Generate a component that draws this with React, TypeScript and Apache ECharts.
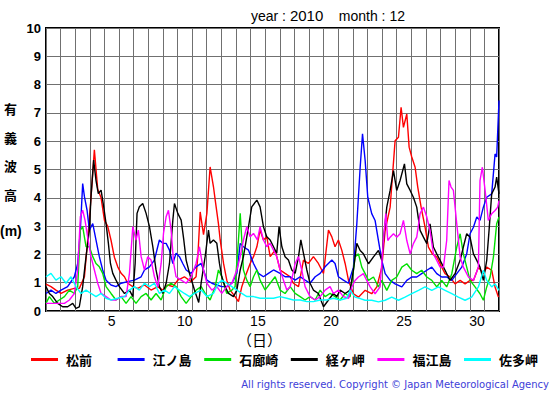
import React, { useEffect, useRef } from "react";
import * as echarts from "echarts";

// ---- data (day offset from Dec 1 00:00, wave height m) ----
const dayLabels = Array.from({ length: 31 }, (_, i) => String(i + 1));
const yTicks = [0, 10, 1];

const stationNames = ["松前", "江ノ島", "石廊崎", "経ヶ岬", "福江島", "佐多岬"];
const stationColors = ["#ff0000", "#0000ff", "#00e000", "#000000", "#ff00ff", "#00ffff"];

const matsumae = [
  [0, 0.95], [0.34, 0.86], [0.68, 0.74], [1.03, 0.62], [1.48, 0.74], [1.94, 0.8], [2.28, 0.8], [2.63, 1.21], [2.85, 2.5], [3.08, 4.0],
  [3.31, 5.7], [3.54, 4.3], [3.77, 4.0], [4.0, 3.2], [4.22, 3.0], [4.45, 2.5], [4.68, 1.9], [4.91, 1.56], [5.14, 1.33], [5.37, 1.21],
  [5.59, 0.98], [5.94, 0.86], [6.28, 0.8], [6.74, 0.92], [7.19, 0.74], [7.65, 0.86], [7.99, 0.74], [8.33, 0.92], [8.68, 0.86], [9.02, 1.09],
  [9.47, 1.21], [9.93, 1.04], [10.27, 1.21], [10.4, 2.0], [10.55, 3.5], [10.78, 2.7], [11.01, 3.45], [11.23, 5.09], [11.46, 4.39], [11.58, 3.92],
  [11.8, 3.09], [11.92, 2.51], [12.15, 1.68], [12.37, 1.09], [12.6, 0.74], [12.94, 0.51], [13.17, 0.33], [13.4, 0.86], [13.63, 1.21], [13.97, 1.68],
  [14.2, 1.92], [14.43, 2.27], [14.65, 2.86], [14.88, 2.51], [15.11, 2.62], [15.34, 1.92], [15.68, 2.15], [16.02, 1.45], [16.36, 1.33], [16.71, 1.21],
  [16.93, 0.98], [17.28, 0.86], [17.62, 1.8], [17.96, 1.68], [18.3, 1.92], [18.64, 1.68], [18.99, 1.33], [19.33, 2.86], [19.56, 2.62], [19.78, 2.27],
  [20.01, 2.51], [20.24, 2.15], [20.47, 1.68], [20.7, 1.08], [21.04, 0.61], [21.38, 0.49], [21.84, 0.73], [22.29, 0.61], [22.64, 0.85], [22.98, 1.55],
  [23.21, 2.85], [23.55, 3.67], [23.89, 6.02], [24.12, 6.14], [24.3, 7.2], [24.46, 6.49], [24.69, 6.96], [24.85, 5.79], [25.03, 5.44], [25.26, 5.08],
  [25.44, 4.38], [25.67, 3.67], [25.94, 2.96], [26.17, 2.26], [26.44, 2.02], [26.74, 1.91], [27.08, 1.55], [27.31, 1.32], [27.65, 1.2], [27.99, 0.96],
  [28.34, 1.08], [28.68, 0.96], [29.02, 1.08], [29.25, 1.08], [29.59, 1.55], [29.93, 1.32], [30.16, 1.55], [30.5, 1.44], [30.73, 0.85], [30.96, 0.49],
];

const enoshima = [
  [0, 0.62], [0.34, 0.74], [0.68, 0.62], [1.03, 0.74], [1.48, 0.86], [1.94, 1.21], [2.17, 1.68], [2.35, 2.86], [2.51, 4.5], [2.63, 4.04],
  [2.81, 3.56], [2.97, 2.86], [3.2, 3.09], [3.42, 2.51], [3.65, 1.92], [3.88, 1.45], [4.11, 1.09], [4.45, 0.92], [4.79, 0.86], [5.14, 0.98],
  [5.59, 1.04], [6.05, 1.09], [6.51, 1.21], [6.74, 1.45], [7.08, 1.56], [7.42, 1.8], [7.76, 2.51], [7.99, 2.39], [8.22, 2.39], [8.45, 2.15],
  [8.68, 1.68], [8.9, 2.04], [9.13, 1.92], [9.36, 1.68], [9.59, 1.45], [9.93, 1.33], [10.27, 1.56], [10.62, 1.68], [10.78, 1.45], [11.01, 1.09],
  [11.35, 0.98], [11.69, 0.92], [12.03, 0.86], [12.37, 0.86], [12.72, 0.98], [13.06, 1.33], [13.29, 2.39], [13.51, 2.27], [13.86, 2.15], [14.2, 1.68],
  [14.54, 1.33], [14.88, 1.21], [15.22, 1.33], [15.57, 1.45], [16.02, 1.33], [16.36, 1.21], [16.71, 1.21], [17.05, 1.09], [17.39, 1.21], [17.73, 1.09],
  [18.07, 0.98], [18.42, 1.21], [18.76, 1.33], [19.1, 1.56], [19.56, 1.8], [19.78, 1.68], [20.01, 1.21], [20.35, 1.09], [20.7, 0.98], [21.04, 1.55],
  [21.27, 3.08], [21.5, 5.08], [21.66, 6.26], [21.84, 5.32], [22.02, 4.02], [22.29, 3.44], [22.52, 3.2], [22.75, 2.49], [22.98, 1.79], [23.21, 1.32],
  [23.55, 1.08], [23.89, 0.96], [24.35, 0.85], [24.69, 1.08], [25.03, 1.2], [25.37, 1.2], [25.71, 1.32], [26.06, 1.44], [26.4, 1.55], [26.74, 1.32],
  [27.08, 1.2], [27.42, 1.2], [27.77, 1.08], [28.11, 1.32], [28.45, 1.55], [28.79, 2.02], [29.02, 2.73], [29.25, 2.96], [29.48, 3.32], [29.7, 3.2],
  [29.93, 3.67], [30.16, 4.02], [30.5, 4.14], [30.73, 5.55], [30.84, 5.44], [31.0, 7.44],
];

const irozaki = [
  [0, 0.27], [0.23, 0.51], [0.57, 0.27], [0.91, 0.39], [1.26, 0.51], [1.6, 0.74], [1.94, 0.62], [2.17, 0.86], [2.35, 2.86], [2.51, 2.98],
  [2.74, 2.27], [2.97, 2.27], [3.2, 1.92], [3.42, 1.68], [3.65, 1.56], [3.88, 1.33], [4.11, 0.86], [4.45, 0.62], [4.79, 0.39], [5.14, 0.51],
  [5.48, 0.27], [5.82, 0.51], [6.16, 0.27], [6.51, 0.51], [6.85, 0.62], [7.19, 0.39], [7.53, 0.62], [7.88, 0.39], [8.22, 0.86], [8.56, 0.98],
  [8.9, 0.86], [9.25, 0.51], [9.59, 0.27], [9.93, 0.51], [10.27, 0.74], [10.62, 0.86], [10.89, 0.62], [11.23, 0.39], [11.58, 0.86], [11.8, 1.45],
  [12.03, 1.21], [12.37, 0.62], [12.72, 0.74], [12.94, 0.86], [13.17, 2.51], [13.29, 3.45], [13.4, 2.51], [13.51, 1.45], [13.74, 1.09], [13.97, 0.86],
  [14.2, 1.21], [14.43, 1.45], [14.65, 1.09], [14.99, 0.74], [15.34, 0.98], [15.68, 1.21], [16.02, 0.74], [16.36, 0.62], [16.71, 0.86], [17.05, 0.62],
  [17.39, 0.51], [17.73, 0.39], [18.07, 0.51], [18.42, 0.39], [18.76, 0.74], [19.1, 0.51], [19.44, 0.62], [19.78, 0.51], [20.13, 0.39], [20.47, 0.62],
  [20.81, 0.5], [21.15, 1.91], [21.38, 2.02], [21.61, 1.55], [21.84, 1.32], [22.07, 1.08], [22.41, 1.2], [22.75, 0.85], [22.98, 1.08], [23.32, 0.73],
  [23.66, 1.08], [24.0, 1.2], [24.35, 1.55], [24.69, 1.67], [25.03, 1.44], [25.37, 1.32], [25.71, 1.44], [26.06, 1.2], [26.4, 1.08], [26.74, 0.85],
  [27.08, 1.08], [27.42, 0.85], [27.77, 1.32], [28.11, 2.26], [28.34, 2.73], [28.56, 2.02], [28.79, 1.55], [29.02, 1.08], [29.36, 0.85], [29.7, 0.61],
  [29.93, 0.38], [30.16, 0.85], [30.39, 1.2], [30.62, 1.91], [30.84, 3.08], [31.0, 3.32],
];

const kyogamisaki = [
  [0, 0.86], [0.23, 0.62], [0.46, 0.51], [0.8, 0.27], [1.14, 0.15], [1.48, 0.15], [1.83, 0.27], [2.05, 0.09], [2.28, 0.15], [2.51, 0.86],
  [2.74, 1.92], [2.97, 2.86], [3.08, 4.04], [3.26, 5.33], [3.42, 4.62], [3.58, 4.15], [3.77, 4.27], [3.95, 3.68], [4.11, 3.09], [4.27, 2.39],
  [4.41, 1.68], [4.57, 1.33], [4.79, 1.09], [5.02, 0.86], [5.37, 0.62], [5.71, 0.74], [5.94, 0.51], [6.1, 1.68], [6.23, 3.45], [6.39, 3.68],
  [6.62, 3.8], [6.85, 3.45], [7.08, 2.98], [7.31, 2.27], [7.53, 1.45], [7.76, 0.86], [7.99, 0.62], [8.22, 0.98], [8.45, 1.68], [8.68, 3.21],
  [8.79, 3.8], [9.02, 3.45], [9.25, 3.21], [9.43, 2.51], [9.59, 1.8], [9.82, 1.33], [10.16, 0.74], [10.45, 0.3], [10.62, 1.0], [10.89, 1.92],
  [11.12, 2.86], [11.23, 2.39], [11.46, 2.51], [11.69, 2.39], [11.87, 1.68], [12.03, 1.21], [12.26, 0.86], [12.49, 0.62], [12.83, 0.51], [13.06, 0.74],
  [13.29, 1.45], [13.51, 1.92], [13.74, 2.62], [14.08, 3.68], [14.43, 3.92], [14.65, 3.68], [14.88, 2.98], [15.11, 2.62], [15.34, 2.51], [15.57, 2.27],
  [15.79, 2.04], [15.95, 2.98], [16.14, 2.27], [16.36, 1.92], [16.59, 1.8], [16.82, 1.45], [17.05, 1.33], [17.28, 1.92], [17.44, 2.51], [17.62, 2.04],
  [17.85, 1.45], [18.07, 0.98], [18.3, 0.74], [18.64, 0.62], [18.99, 0.15], [19.33, 0.39], [19.67, 0.62], [19.9, 0.51], [20.13, 0.74], [20.47, 0.62],
  [20.81, 0.74], [21.04, 1.45], [21.27, 2.39], [21.5, 2.14], [21.72, 2.02], [22.07, 1.67], [22.41, 1.91], [22.75, 2.14], [22.98, 1.79], [23.16, 2.85],
  [23.32, 3.67], [23.55, 4.26], [23.78, 4.96], [24.0, 4.26], [24.23, 4.61], [24.53, 5.2], [24.69, 4.49], [24.92, 4.26], [25.14, 4.02], [25.37, 3.67],
  [25.6, 2.85], [25.83, 2.61], [26.06, 2.38], [26.28, 3.08], [26.51, 2.26], [26.74, 2.02], [26.97, 1.79], [27.31, 1.44], [27.65, 1.08], [27.99, 1.32],
  [28.34, 1.79], [28.56, 2.26], [28.79, 2.73], [29.02, 2.61], [29.25, 2.02], [29.48, 1.79], [29.7, 1.55], [29.93, 1.08], [30.16, 1.79], [30.32, 2.85],
  [30.5, 4.14], [30.73, 4.38], [30.84, 4.73], [31.0, 4.14],
];

const fukuejima = [
  [0, 0.27], [0.34, 0.27], [0.8, 0.27], [1.26, 0.27], [1.6, 0.39], [1.94, 0.62], [2.17, 1.45], [2.35, 3.33], [2.51, 3.56], [2.67, 3.21],
  [2.85, 2.62], [3.08, 1.92], [3.31, 1.45], [3.54, 0.98], [3.77, 0.62], [4.11, 0.51], [4.45, 0.39], [4.79, 0.39], [5.14, 0.51], [5.48, 0.51],
  [5.71, 1.33], [5.94, 2.98], [6.16, 2.51], [6.32, 2.86], [6.51, 1.92], [6.74, 1.45], [6.96, 1.92], [7.19, 1.8], [7.42, 1.21], [7.65, 0.86],
  [7.88, 1.68], [8.04, 2.74], [8.22, 3.33], [8.38, 3.56], [8.56, 2.86], [8.74, 1.68], [8.9, 1.21], [9.25, 1.09], [9.59, 0.98], [9.93, 1.21],
  [10.27, 1.68], [10.5, 2.27], [10.62, 1.9], [10.78, 1.45], [11.01, 0.98], [11.35, 0.74], [11.69, 0.86], [12.03, 0.62], [12.37, 0.86], [12.72, 0.98],
  [13.06, 1.45], [13.29, 1.92], [13.51, 2.51], [13.74, 2.98], [13.97, 2.62], [14.2, 2.74], [14.47, 2.51], [14.65, 2.98], [14.88, 2.51], [15.11, 2.27],
  [15.34, 2.39], [15.57, 2.15], [15.79, 1.92], [16.02, 1.45], [16.25, 1.09], [16.48, 0.74], [16.71, 0.86], [17.05, 1.68], [17.28, 1.92], [17.5, 1.45],
  [17.73, 0.86], [18.07, 0.51], [18.42, 0.39], [18.76, 0.51], [19.1, 0.74], [19.44, 0.86], [19.67, 0.62], [20.01, 0.74], [20.35, 0.51], [20.7, 0.45],
  [20.93, 0.85], [21.15, 1.08], [21.38, 1.2], [21.72, 1.32], [21.95, 1.08], [22.18, 0.85], [22.52, 0.61], [22.86, 0.85], [23.09, 2.49], [23.25, 3.44],
  [23.39, 2.49], [23.55, 2.61], [23.78, 2.73], [24.0, 2.61], [24.23, 2.73], [24.46, 3.2], [24.69, 2.49], [24.92, 2.02], [25.14, 2.38], [25.37, 2.61],
  [25.6, 3.44], [25.83, 3.67], [26.06, 3.32], [26.28, 2.85], [26.51, 2.02], [26.74, 1.79], [26.97, 1.55], [27.2, 1.55], [27.42, 2.49], [27.58, 4.61],
  [27.72, 4.38], [27.88, 4.26], [28.11, 3.08], [28.34, 1.91], [28.56, 1.55], [28.91, 1.2], [29.25, 1.08], [29.59, 1.55], [29.7, 4.61], [29.86, 5.08],
  [30.05, 4.26], [30.27, 3.2], [30.5, 3.44], [30.73, 3.55], [30.91, 3.67], [31.0, 3.9],
];

const satamisaki = [
  [0, 1.21], [0.34, 1.33], [0.68, 1.09], [1.03, 1.21], [1.37, 0.98], [1.71, 1.21], [2.05, 0.86], [2.4, 0.62], [2.74, 0.74], [3.08, 0.62],
  [3.42, 0.51], [3.77, 0.62], [4.11, 0.45], [4.45, 0.39], [4.91, 0.45], [5.37, 0.51], [5.71, 0.74], [6.05, 0.86], [6.39, 0.74], [6.74, 0.98],
  [7.08, 0.86], [7.42, 0.98], [7.76, 0.62], [8.11, 0.74], [8.45, 0.62], [8.79, 0.86], [9.13, 0.74], [9.47, 0.62], [9.82, 0.51], [10.16, 0.62],
  [10.62, 0.74], [11.01, 0.51], [11.46, 0.62], [11.8, 0.98], [12.03, 1.09], [12.37, 0.98], [12.72, 0.86], [13.06, 0.74], [13.4, 0.62], [13.74, 0.51],
  [14.2, 0.51], [14.65, 0.45], [15.11, 0.45], [15.57, 0.45], [16.02, 0.51], [16.48, 0.45], [16.93, 0.39], [17.39, 0.39], [17.85, 0.33], [18.3, 0.33],
  [18.76, 0.39], [19.21, 0.39], [19.67, 0.45], [20.13, 0.39], [20.58, 0.45], [20.81, 0.73], [21.15, 0.49], [21.5, 0.44], [21.84, 0.38], [22.29, 0.38],
  [22.75, 0.32], [23.21, 0.38], [23.66, 0.49], [24.12, 0.38], [24.57, 0.49], [25.03, 0.61], [25.49, 0.73], [25.94, 0.85], [26.4, 0.73], [26.85, 0.85],
  [27.31, 0.73], [27.77, 0.61], [28.22, 0.49], [28.68, 0.38], [29.13, 0.49], [29.59, 0.85], [29.93, 1.44], [30.16, 1.08], [30.5, 0.85], [30.73, 0.96],
  [31.0, 0.73],
];

const stationData = [matsumae, enoshima, irozaki, kyogamisaki, fukuejima, satamisaki];

const titleYear = "2010";
const titleMonth = "12";
const yNameChars = ["有", "義", "波", "高"];

const CJK = '"Noto Sans CJK JP", "Noto Sans", sans-serif';
const SANS = '"Liberation Sans", Arial, Helvetica, sans-serif';

export default function App() {
  const ref = useRef<HTMLDivElement>(null);

  useEffect(() => {
    if (!ref.current) return;
    const chart = echarts.init(ref.current, undefined, { renderer: "svg" });

    const legends = stationNames.map((name, i) => ({
      data: [{ name, icon: "rect" }],
      left: 31 + i * 86.6,
      top: 353,
      itemWidth: 27,
      itemHeight: 3,
      padding: 0,
      textStyle: {
        fontFamily: CJK,
        fontWeight: "bold",
        fontSize: 13,
        color: "#000",
        padding: [0, 0, 0, 3],
      },
    }));

    const yNameGraphics = yNameChars.map((ch, i) => ({
      type: "text",
      left: 4,
      top: 102 + i * 28.5,
      style: { text: ch, font: `bold 13px ${CJK}`, fill: "#000" },
    }));

    chart.setOption({
      animation: false,
      backgroundColor: "#fff",
      grid: {
        left: 46,
        right: 56,
        top: 28,
        bottom: 84,
        show: true,
        borderColor: "#000",
        borderWidth: 2,
        backgroundColor: "transparent",
        containLabel: false,
      },
      legend: legends,
      xAxis: [
        {
          type: "category",
          data: dayLabels,
          boundaryGap: true,
          axisLine: { show: false },
          axisTick: { show: false },
          axisLabel: {
            interval: (idx: number) => (idx + 1) % 5 === 0,
            fontFamily: SANS,
            fontSize: 14,
            lineHeight: 14,
            color: "#000",
            margin: 3,
          },
          splitLine: { show: true, interval: 0, lineStyle: { color: "#707070", width: 1 } },
        },
        {
          type: "value",
          min: 0,
          max: 31,
          show: false,
          splitLine: { show: false },
        },
      ],
      yAxis: {
        type: "value",
        min: yTicks[0],
        max: yTicks[1],
        interval: yTicks[2],
        axisLine: { show: false },
        axisTick: { show: false },
        axisLabel: {
          fontFamily: SANS,
          fontWeight: "bold",
          fontSize: 13,
          color: "#000",
          margin: 5,
        },
        splitLine: { show: true, lineStyle: { color: "#707070", width: 1 } },
      },
      series: stationNames.map((name, i) => ({
        name,
        type: "line",
        xAxisIndex: 1,
        data: stationData[i],
        showSymbol: false,
        symbol: "none",
        color: stationColors[i],
        lineStyle: { width: 1.4, color: stationColors[i] },
      })),
      graphic: [
        {
          type: "text",
          left: 251,
          top: 8,
          style: {
            text: `{a|year : }{b|${titleYear}}{a|    month : ${titleMonth}}`,
            rich: {
              a: { font: `14px ${SANS}`, fill: "#000" },
              b: { font: `15px ${SANS}`, fill: "#000" },
            },
          },
        },
        ...yNameGraphics,
        {
          type: "text",
          left: 0,
          top: 224,
          style: { text: "(m)", font: `bold 14px ${SANS}`, fill: "#000" },
        },
        {
          type: "text",
          left: 237,
          top: 332,
          style: { text: "（日）", font: `15px ${CJK}`, lineHeight: 15, fill: "#000" },
        },
        {
          type: "text",
          right: 6,
          top: 379,
          style: {
            text: "All rights reserved. Copyright © Japan Meteorological Agency",
            font: `10px "DejaVu Sans", sans-serif`,
            fill: "#4040d8",
          },
        },
      ],
    });

    return () => chart.dispose();
  }, []);

  return (
    <div
      ref={ref}
      style={{ position: "fixed", left: 0, top: 0, width: 555, height: 395, background: "#fff" }}
    />
  );
}
